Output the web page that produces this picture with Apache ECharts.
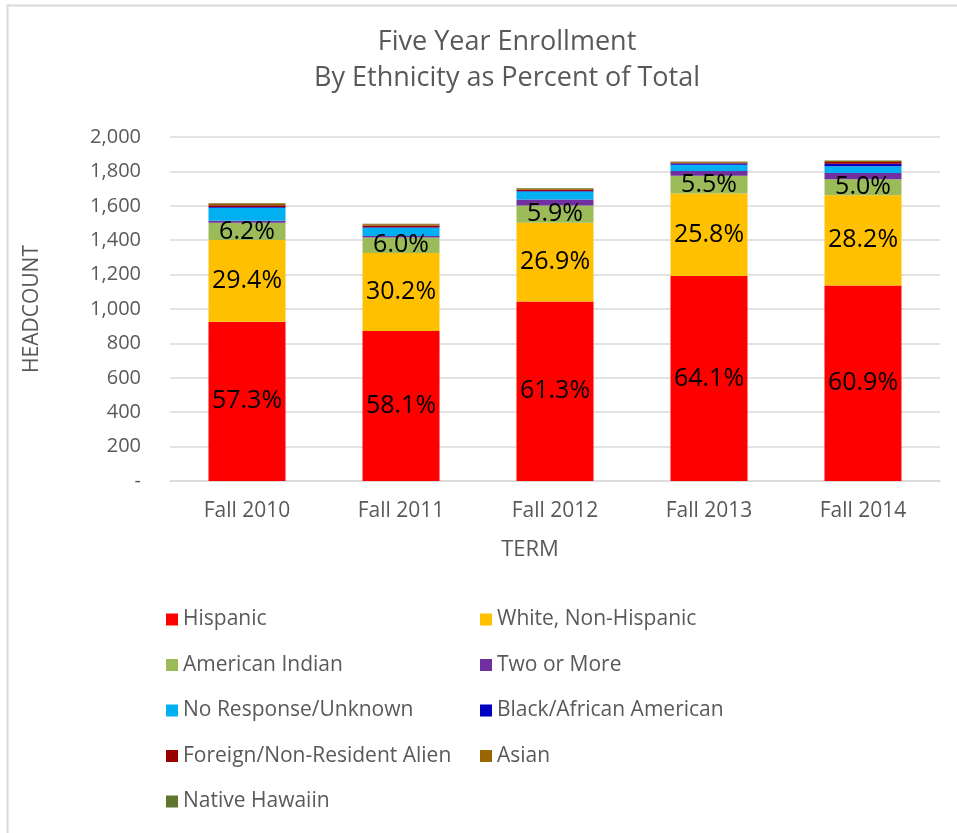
<!DOCTYPE html>
<html>
<head>
<meta charset="utf-8">
<script src="https://cdn.jsdelivr.net/npm/echarts@6/dist/echarts.min.js"></script>
<style>
  html, body { margin: 0; padding: 0; background: #fff; }
  #chart { width: 957px; height: 833px; }
</style>
</head>
<body>
<div id="chart"></div>
<script>
const terms = ["Fall 2010", "Fall 2011", "Fall 2012", "Fall 2013", "Fall 2014"];

// headcount per group (bottom to top)
const hispanic = [926, 872, 1044, 1192, 1136];
const white = [475, 453, 458, 480, 526];
const americanIndian = [100, 90, 100, 102, 93];
const twoOrMore = [12, 10, 35, 29, 35];
const unknown = [75, 48, 46, 35, 40];
const black = [5, 3, 3, 8, 14];
const foreign = [10, 10, 8, 5, 10];
const asian = [10, 7, 7, 5, 6];
const nativeHawaiian = [3, 2, 2, 2, 3];

// percent labels printed on the bars
const hispanicPct = ["57.3%", "58.1%", "61.3%", "64.1%", "60.9%"];
const whitePct = ["29.4%", "30.2%", "26.9%", "25.8%", "28.2%"];
const americanIndianPct = ["6.2%", "6.0%", "5.9%", "5.5%", "5.0%"];

const FONT = "Open Sans";
const GREY = "#595959";

function series(name, data, color, labels) {
  const s = {
    name: name,
    type: "bar",
    stack: "total",
    barWidth: "50%",
    itemStyle: { color: color },
    data: data,
  };
  if (labels) {
    s.label = {
      show: true,
      position: "inside",
      color: "#000",
      fontFamily: FONT,
      fontSize: 25,
      formatter: (p) => labels[p.dataIndex],
    };
  }
  return s;
}

const legendText = { color: GREY, fontFamily: FONT, fontSize: 21, lineHeight: 20 };

const chart = echarts.init(document.getElementById("chart"));
chart.setOption({
  animation: false,
  title: {
    text: "Five Year Enrollment\nBy Ethnicity as Percent of Total",
    left: 502,
    textAlign: "center",
    top: 19,
    textStyle: {
      color: GREY,
      fontFamily: FONT,
      fontSize: 27,
      fontWeight: "normal",
      lineHeight: 36,
    },
  },
  grid: { left: 170, right: 17, top: 137, bottom: 352 },
  legend: [
    {
      orient: "vertical",
      left: 161,
      top: 604,
      itemWidth: 12,
      itemHeight: 12,
      itemGap: 24.5,
      icon: "rect",
      textStyle: legendText,
      data: ["Hispanic", "American Indian", "No Response/Unknown", "Foreign/Non-Resident Alien", "Native Hawaiin"],
    },
    {
      orient: "vertical",
      left: 475,
      top: 604,
      itemWidth: 12,
      itemHeight: 12,
      itemGap: 24.5,
      icon: "rect",
      textStyle: legendText,
      data: ["White, Non-Hispanic", "Two or More", "Black/African American", "Asian"],
    },
  ],
  xAxis: {
    type: "category",
    data: terms,
    name: "TERM",
    nameLocation: "middle",
    nameGap: 58,
    nameTextStyle: { color: GREY, fontFamily: FONT, fontSize: 22, padding: [0, 50, 0, 0] },
    axisLine: { lineStyle: { color: "#d9d9d9", width: 1.5 } },
    axisTick: { show: false },
    axisLabel: { color: GREY, fontFamily: FONT, fontSize: 21, margin: 20 },
  },
  yAxis: {
    type: "value",
    min: 0,
    max: 2000,
    interval: 200,
    name: "HEADCOUNT",
    nameLocation: "middle",
    nameGap: 127,
    nameTextStyle: { color: GREY, fontFamily: FONT, fontSize: 21 },
    splitLine: { lineStyle: { color: "#d9d9d9", width: 1.5 } },
    axisLabel: {
      color: GREY,
      fontFamily: FONT,
      fontSize: 20,
      margin: 29,
      formatter: (v) => (v === 0 ? "-" : v.toLocaleString("en-US")),
    },
  },
  graphic: [
    {
      type: "polyline",
      shape: { points: [[7.5, 833], [7.5, 5.5], [957, 5.5]] },
      style: { stroke: "#d9d9d9", lineWidth: 2, fill: null },
      silent: true,
    },
  ],
  series: [
    series("Hispanic", hispanic, "#ff0000", hispanicPct),
    series("White, Non-Hispanic", white, "#ffc000", whitePct),
    series("American Indian", americanIndian, "#9bbb59", americanIndianPct),
    series("Two or More", twoOrMore, "#7030a0"),
    series("No Response/Unknown", unknown, "#00b0f0"),
    series("Black/African American", black, "#0000c0"),
    series("Foreign/Non-Resident Alien", foreign, "#990000"),
    series("Asian", asian, "#996600"),
    series("Native Hawaiin", nativeHawaiian, "#5f7530"),
  ],
});
</script>
</body>
</html>
